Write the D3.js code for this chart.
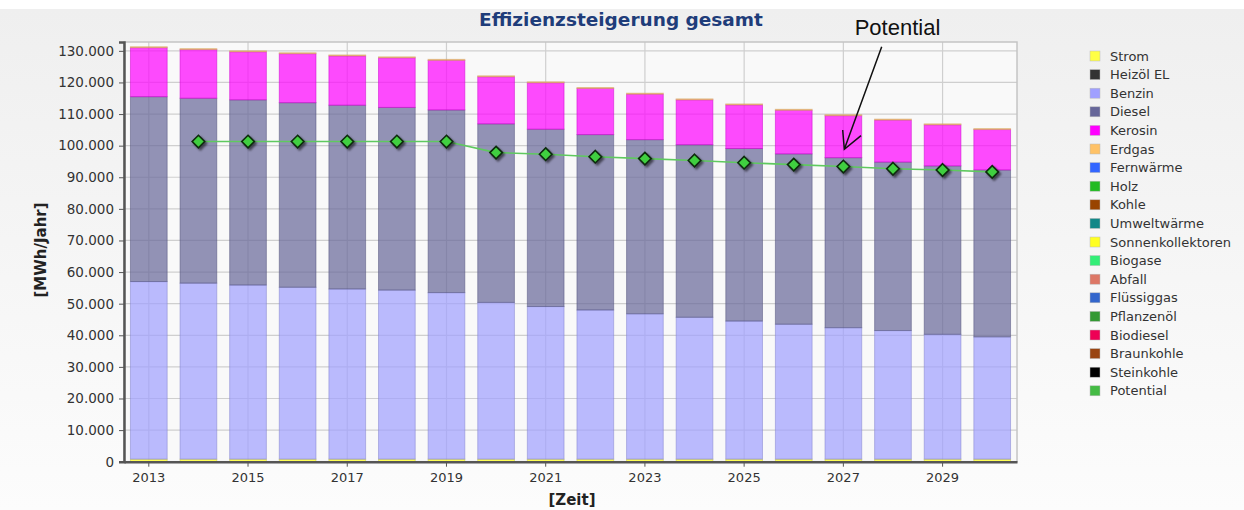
<!DOCTYPE html>
<html>
<head>
<meta charset="utf-8">
<script src="https://cdn.jsdelivr.net/npm/d3@7"></script>
<style>
  body { margin: 0; background: #fff; }
  svg { display: block; }
</style>
</head>
<body>
<script>
// chart values
const years = d3.range(2013, 2031);
const strom    = [800, 800, 800, 800, 800, 800, 800, 800, 800, 800, 800, 800, 800, 800, 800, 800, 800, 800];
const benzin   = [56200, 55700, 55100, 54400, 53850, 53500, 52700, 49600, 48300, 47200, 46000, 44900, 43700, 42700, 41600, 40700, 39500, 38700];
const diesel   = [58500, 58500, 58600, 58400, 58150, 57800, 57800, 56500, 56100, 55500, 55100, 54600, 54600, 53900, 53800, 53300, 53300, 52800];
const kerosin  = [15500, 15400, 15200, 15500, 15600, 15700, 15700, 14900, 14700, 14600, 14400, 14200, 13800, 13800, 13300, 13300, 13000, 12800];
const erdgas   = [300, 300, 300, 300, 300, 300, 300, 300, 300, 300, 300, 300, 300, 300, 300, 300, 300, 300];
const potYears = d3.range(2014, 2031);
const potential = [101300, 101300, 101300, 101300, 101300, 101300, 97800, 97300, 96500, 95900, 95300, 94600, 94000, 93400, 92700, 92300, 91700];
const yTicks = d3.range(0, 130001, 10000);
const xTickYears = [2013, 2015, 2017, 2019, 2021, 2023, 2025, 2027, 2029];

const legendNames = ["Strom", "Heizöl EL", "Benzin", "Diesel", "Kerosin", "Erdgas", "Fernwärme", "Holz", "Kohle",
  "Umweltwärme", "Sonnenkollektoren", "Biogase", "Abfall", "Flüssiggas", "Pflanzenöl", "Biodiesel",
  "Braunkohle", "Steinkohle", "Potential"];
const legendColors = ["#ffff44", "#333333", "#a0a0ff", "#666699", "#ff00ff", "#ffc266", "#3366ff", "#22bb22", "#994400",
  "#118888", "#ffff22", "#33ee77", "#dd7766", "#3366cc", "#339933", "#ee0055", "#994411", "#000000", "#44bb44"];

const W = 1244, H = 510;
const plotL = 124, plotR = 1017, plotT = 42, plotB = 461.7;

const svg = d3.select("body").append("svg")
    .attr("width", W)
    .attr("height", H);

const defs = svg.append("defs");
const bg = defs.append("linearGradient").attr("id", "bg").attr("x1", 0).attr("y1", 0).attr("x2", 0).attr("y2", 1);
bg.append("stop").attr("offset", "0%").attr("stop-color", "#efefef");
bg.append("stop").attr("offset", "100%").attr("stop-color", "#fcfcfc");
defs.append("filter").attr("id", "shadow")
    .attr("x", "-50%").attr("y", "-50%").attr("width", "200%").attr("height", "200%")
  .append("feDropShadow")
    .attr("dx", 2).attr("dy", 2).attr("stdDeviation", 1.3)
    .attr("flood-color", "#000").attr("flood-opacity", 0.55);

// background
svg.append("rect").attr("x", 0).attr("y", 9).attr("width", W).attr("height", H - 9).attr("fill", "url(#bg)");
svg.append("rect").attr("x", plotL).attr("y", plotT).attr("width", plotR - plotL).attr("height", plotB - plotT)
    .attr("fill", "#f9f9f9");

const x = d3.scaleBand()
    .domain(years)
    .range([plotL, plotR])
    .paddingInner(0.26)
    .paddingOuter(0.13);

const y = d3.scaleLinear()
    .domain([0, 132800])
    .range([plotB, plotT]);

// grid
const grid = svg.append("g").attr("stroke", "#cfcfcf").attr("stroke-width", 1.2);
grid.selectAll("line.h").data(yTicks.filter(d => d > 0)).join("line")
    .attr("class", "h")
    .attr("x1", plotL).attr("x2", plotR)
    .attr("y1", d => y(d)).attr("y2", d => y(d));
grid.selectAll("line.v").data(xTickYears).join("line")
    .attr("class", "v")
    .attr("x1", d => x(d) + x.bandwidth() / 2).attr("x2", d => x(d) + x.bandwidth() / 2)
    .attr("y1", plotT).attr("y2", plotB);
svg.append("rect").attr("x", plotL).attr("y", plotT).attr("width", plotR - plotL).attr("height", plotB - plotT)
    .attr("fill", "none").attr("stroke", "#c4c4c4").attr("stroke-width", 1.5);

// stacked bars
const rows = years.map((yr, i) => ({
  year: yr, Strom: strom[i], Benzin: benzin[i], Diesel: diesel[i], Kerosin: kerosin[i], Erdgas: erdgas[i]
}));
const keys = ["Strom", "Benzin", "Diesel", "Kerosin", "Erdgas"];
const colorOf = d3.scaleOrdinal().domain(legendNames).range(legendColors);
const stack = d3.stack().keys(keys)(rows);

svg.append("g").selectAll("g")
    .data(stack)
    .join("g")
    .attr("fill", d => colorOf(d.key))
    .attr("fill-opacity", d => d.key === "Strom" ? 0.9 : 0.7)
    .attr("stroke", d => d3.color(colorOf(d.key)).darker(0.6))
    .attr("stroke-opacity", 0.5)
    .attr("stroke-width", 1)
  .selectAll("rect")
    .data(d => d)
    .join("rect")
    .attr("x", d => x(d.data.year))
    .attr("width", x.bandwidth())
    .attr("y", d => y(d[1]))
    .attr("height", d => y(d[0]) - y(d[1]));

// potential line + diamonds
const pot = potYears.map((yr, i) => ({ year: yr, v: potential[i] }));
const cx = d => x(d.year) + x.bandwidth() / 2;
svg.append("path")
    .datum(pot)
    .attr("fill", "none")
    .attr("stroke", "#5fc95f")
    .attr("stroke-width", 1.6)
    .attr("d", d3.line().x(cx).y(d => y(d.v)));
svg.append("g").selectAll("path")
    .data(pot)
    .join("path")
    .attr("d", d3.symbol(d3.symbolDiamond2, 100))
    .attr("transform", d => `translate(${cx(d)},${y(d.v)})`)
    .attr("fill", "#3fcf3f")
    .attr("stroke", "#0d2a0d")
    .attr("stroke-width", 1.6)
    .attr("filter", "url(#shadow)");

// axes
const yAxis = svg.append("g")
    .attr("transform", `translate(${plotL},0)`)
    .call(d3.axisLeft(y).tickValues(yTicks).tickSize(5).tickPadding(5)
      .tickFormat(d => d3.format(",")(d).replace(/,/g, ".")));
yAxis.select(".domain").attr("stroke", "#555").attr("stroke-width", 2.5);
yAxis.selectAll(".tick line").attr("stroke", "#555");
yAxis.selectAll("text").attr("fill", "#333").style("font", "13.5px 'DejaVu Sans', Verdana, sans-serif");

const xAxis = svg.append("g")
    .attr("transform", `translate(0,${plotB})`)
    .call(d3.axisBottom(x).tickValues(xTickYears).tickSize(5).tickPadding(6).tickSizeOuter(0));
xAxis.select(".domain").attr("stroke", "#555").attr("stroke-width", 2.5);
xAxis.selectAll(".tick line").attr("stroke", "#555");
xAxis.selectAll("text").attr("fill", "#333").style("font", "13px 'DejaVu Sans', Verdana, sans-serif");

// titles
svg.append("text")
    .attr("x", 621).attr("y", 26)
    .attr("text-anchor", "middle")
    .attr("fill", "#1f3d7a")
    .style("font", "bold 18.5px 'DejaVu Sans', Verdana, sans-serif")
    .text("Effizienzsteigerung gesamt");
svg.append("text")
    .attr("transform", "translate(46,250) rotate(-90)")
    .attr("text-anchor", "middle")
    .attr("fill", "#222")
    .style("font", "bold 15px 'DejaVu Sans', Verdana, sans-serif")
    .text("[MWh/Jahr]");
svg.append("text")
    .attr("x", 572).attr("y", 505)
    .attr("text-anchor", "middle")
    .attr("fill", "#222")
    .style("font", "bold 15px 'DejaVu Sans', Verdana, sans-serif")
    .text("[Zeit]");

// annotation
svg.append("text")
    .attr("x", 897.5).attr("y", 35)
    .attr("text-anchor", "middle")
    .attr("fill", "#111")
    .style("font", "22px 'Liberation Sans', Arial, sans-serif")
    .text("Potential");
svg.append("path")
    .attr("d", "M881.7,46.7 L844.3,149.3 M842.7,130 L844.3,149.3 L861,135.7")
    .attr("fill", "none")
    .attr("stroke", "#111")
    .attr("stroke-width", 1.5);

// legend
const legend = svg.append("g").attr("transform", "translate(1090,56)");
const item = legend.selectAll("g")
    .data(legendNames)
    .join("g")
    .attr("transform", (d, i) => `translate(0,${i * 18.6})`);
item.append("rect")
    .attr("x", 0).attr("y", -5)
    .attr("width", 10).attr("height", 10)
    .attr("fill", d => colorOf(d))
    .attr("stroke", "#bbb")
    .attr("stroke-width", 0.5);
item.append("text")
    .attr("x", 20).attr("y", 4.5)
    .attr("fill", "#333")
    .style("font", "13px 'DejaVu Sans', Verdana, sans-serif")
    .text(d => d);
</script>
</body>
</html>
